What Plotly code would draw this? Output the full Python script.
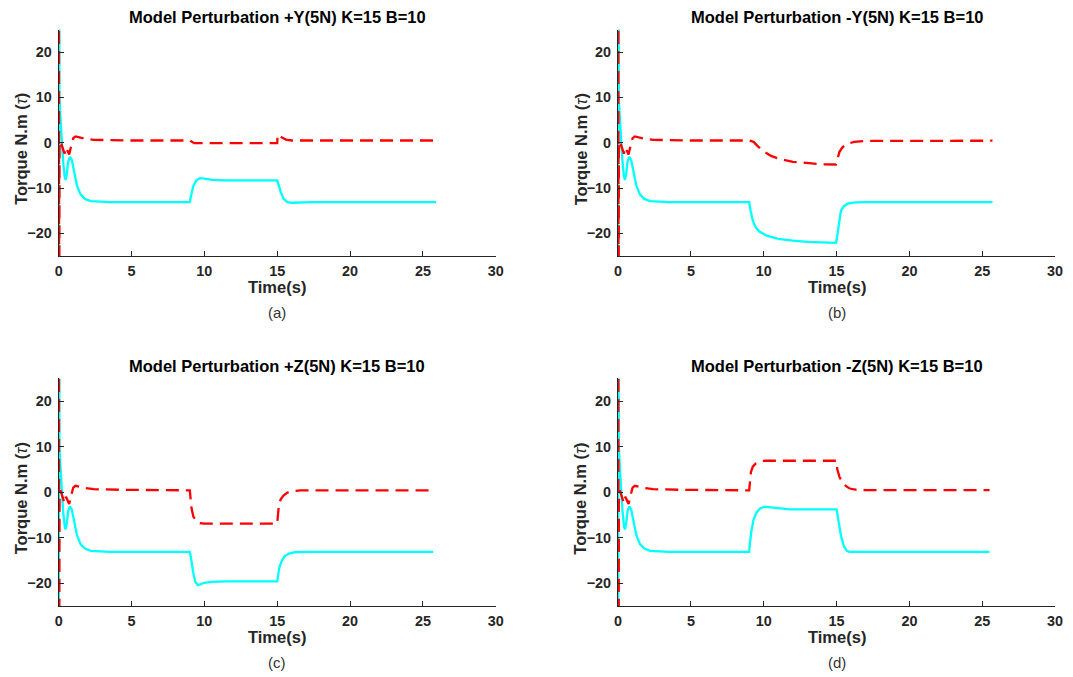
import plotly.graph_objects as go

# ---- common start-up transient (identical in all four runs) ----
t_start_cyan = [0.01, 0.02, 0.05, 0.13, 0.2, 0.3, 0.4, 0.47, 0.55, 0.65, 0.77, 0.9, 1.05, 1.25, 1.5, 1.8, 2.2, 2.8, 3.5, 5.0]
cyan_start = [-60, 60, 10, 5.0, 1.0, -4.0, -7.3, -8.2, -7.0, -4.2, -3.1, -3.8, -6.2, -9.4, -11.4, -12.4, -12.9, -13.05, -13.1, -13.1]

t_start_red = [0.02, 0.03, 0.06, 0.12, 0.25, 0.4, 0.5, 0.6, 0.72, 0.85, 1.0, 1.15, 1.4, 1.8, 2.4, 3.2, 4.5]
red_start = [60, -60, -1.0, 0.4, -1.2, -2.4, -1.0, -1.6, -2.6, -0.8, 1.0, 1.4, 1.2, 0.9, 0.65, 0.55, 0.5]

# ---- perturbation window (t >= 9 s) for each case ----
# (a) +Y
t_a_cyan = [9.0, 9.1, 9.25, 9.45, 9.7, 10.0, 10.5, 11.5, 15.0, 15.1, 15.25, 15.45, 15.7, 16.0, 16.5, 17.5, 25.9]
a_cyan = [-13.1, -11.5, -9.5, -8.3, -7.8, -7.9, -8.2, -8.3, -8.3, -9.3, -11.0, -12.4, -13.1, -13.25, -13.2, -13.1, -13.1]
t_a_red = [9.0, 9.15, 9.3, 15.0, 15.03, 15.3, 15.6, 16.0, 16.5, 25.9]
a_red = [0.5, 0.1, -0.1, -0.1, 1.8, 1.2, 0.7, 0.5, 0.5, 0.5]

# (b) -Y
t_b_cyan = [9.0, 9.1, 9.25, 9.45, 9.7, 10.2, 11.0, 12.0, 13.0, 14.0, 14.95, 15.0, 15.08, 15.18, 15.3, 15.5, 15.8, 16.3, 17.0, 25.7]
b_cyan = [-13.1, -15.0, -17.2, -18.7, -19.6, -20.5, -21.2, -21.6, -21.9, -22.0, -22.1, -21.5, -19.5, -16.8, -15.0, -14.0, -13.4, -13.15, -13.1, -13.1]
t_b_red = [9.0, 9.3, 9.6, 10.0, 10.5, 11.0, 12.0, 13.0, 14.0, 14.95, 15.05, 15.2, 15.4, 15.7, 16.2, 17.0, 25.7]
b_red = [0.5, 0.2, -0.8, -1.9, -2.9, -3.5, -4.2, -4.55, -4.75, -4.8, -3.4, -2.0, -1.0, -0.3, 0.2, 0.4, 0.45]

# (c) +Z
t_c_cyan = [9.0, 9.07, 9.15, 9.25, 9.38, 9.55, 9.75, 10.0, 10.5, 11.5, 15.0, 15.05, 15.15, 15.3, 15.5, 15.8, 16.2, 17.0, 25.7]
c_cyan = [-13.1, -14.2, -16.0, -18.0, -19.7, -20.4, -20.2, -19.9, -19.7, -19.6, -19.6, -18.3, -16.5, -15.2, -14.1, -13.5, -13.2, -13.1, -13.1]
t_c_red = [9.0, 9.05, 9.12, 9.25, 9.45, 9.7, 10.0, 15.0, 15.05, 15.12, 15.25, 15.45, 15.7, 16.1, 16.6, 25.7]
c_red = [0.4, -1.5, -3.6, -5.4, -6.4, -6.8, -6.9, -6.9, -4.2, -2.6, -1.5, -0.7, -0.1, 0.25, 0.4, 0.4]

# (d) -Z
t_d_cyan = [9.0, 9.05, 9.15, 9.3, 9.5, 9.75, 10.05, 10.5, 11.0, 11.8, 15.0, 15.05, 15.15, 15.3, 15.5, 15.7, 15.9, 16.3, 25.5]
d_cyan = [-13.1, -11.3, -8.6, -6.0, -4.5, -3.6, -3.2, -3.35, -3.55, -3.8, -3.8, -4.6, -6.7, -9.5, -11.9, -12.9, -13.1, -13.1, -13.1]
t_d_red = [9.0, 9.04, 9.12, 9.25, 9.45, 9.7, 10.1, 15.0, 15.05, 15.2, 15.4, 15.65, 15.9, 16.3, 17.0, 25.5]
d_red = [0.4, 2.5, 4.4, 5.6, 6.3, 6.7, 6.9, 6.9, 5.0, 3.3, 2.2, 1.3, 0.8, 0.55, 0.45, 0.45]

titles = [
    "Model Perturbation +Y(5N) K=15 B=10",
    "Model Perturbation -Y(5N) K=15 B=10",
    "Model Perturbation +Z(5N) K=15 B=10",
    "Model Perturbation -Z(5N) K=15 B=10",
]
captions = ["(a)", "(b)", "(c)", "(d)"]
x_ticks = [0, 5, 10, 15, 20, 25, 30]
y_ticks = [-20, -10, 0, 10, 20]

cases = [
    (t_a_cyan, a_cyan, t_a_red, a_red),
    (t_b_cyan, b_cyan, t_b_red, b_red),
    (t_c_cyan, c_cyan, t_c_red, c_red),
    (t_d_cyan, d_cyan, t_d_red, d_red),
]

W, H = 1073, 677
FONT = "Liberation Sans, Arial, Helvetica, sans-serif"
INK = "#262626"

# pixel geometry of the plotting areas: (left, right, top, bottom)
boxes = [
    (55.3, 497.3, 29.5, 256.0),
    (621.0, 1063.0, 29.5, 256.0),
    (55.3, 497.3, 378.3, 606.0),
    (621.0, 1063.0, 378.3, 606.0),
]

fig = go.Figure()
layout = dict(
    width=W, height=H,
    margin=dict(l=0, r=0, t=0, b=0),
    paper_bgcolor="white", plot_bgcolor="white",
    showlegend=False,
    annotations=[],
)

for i, (tc, vc, tr, vr) in enumerate(cases):
    n = "" if i == 0 else str(i + 1)
    xa, ya = "x" + n, "y" + n
    fig.add_trace(go.Scatter(
        x=t_start_cyan + tc, y=cyan_start + vc, mode="lines",
        line=dict(color="#00FFFF", width=2.3),
        xaxis=xa, yaxis=ya,
    ))
    fig.add_trace(go.Scatter(
        x=t_start_red + tr, y=red_start + vr, mode="lines",
        line=dict(color="#FF0000", width=2.3, dash="13px,7px"),
        xaxis=xa, yaxis=ya,
    ))

    L, R, T, B = boxes[i]
    axis_common = dict(
        showline=True, linecolor=INK, linewidth=1.2, mirror=False,
        ticks="inside", ticklen=5, tickwidth=1, tickcolor=INK,
        showgrid=False, zeroline=False,
        tickfont=dict(family=FONT, size=14.4, color=INK, weight="bold"),
    )
    layout["xaxis" + n] = dict(
        axis_common, domain=[L / W, R / W], range=[0, 30],
        tickvals=x_ticks, anchor=ya, ticklabelstandoff=2,
    )
    layout["yaxis" + n] = dict(
        axis_common, domain=[1 - B / H, 1 - T / H], range=[-25, 25],
        tickvals=y_ticks, anchor=xa, ticklabelstandoff=3,
    )

    cx = (L + R) / 2
    # panel title
    layout["annotations"].append(dict(
        text="<b>" + titles[i] + "</b>", x=cx / W, y=1 - (T - 12.5) / H,
        xref="paper", yref="paper", showarrow=False,
        xanchor="center", yanchor="middle",
        font=dict(family=FONT, size=16.5, color="black"),
    ))
    # x-axis label
    layout["annotations"].append(dict(
        text="<b>Time(s)</b>", x=cx / W, y=1 - (B + 31) / H,
        xref="paper", yref="paper", showarrow=False,
        xanchor="center", yanchor="middle",
        font=dict(family=FONT, size=16.5, color=INK),
    ))
    # y-axis label
    layout["annotations"].append(dict(
        text="<b>Torque N.m (</b><i>τ</i><b>)</b>", x=(L - 38) / W, y=1 - ((T + B) / 2 + 6) / H,
        xref="paper", yref="paper", showarrow=False, textangle=-90,
        xanchor="center", yanchor="middle",
        font=dict(family=FONT, size=16.5, color=INK),
    ))
    # caption
    layout["annotations"].append(dict(
        text=captions[i], x=cx / W, y=1 - (B + 56) / H,
        xref="paper", yref="paper", showarrow=False,
        xanchor="center", yanchor="middle",
        font=dict(family=FONT, size=15, color="#333333"),
    ))

fig.update_layout(**layout)
fig.write_html("out.html")
